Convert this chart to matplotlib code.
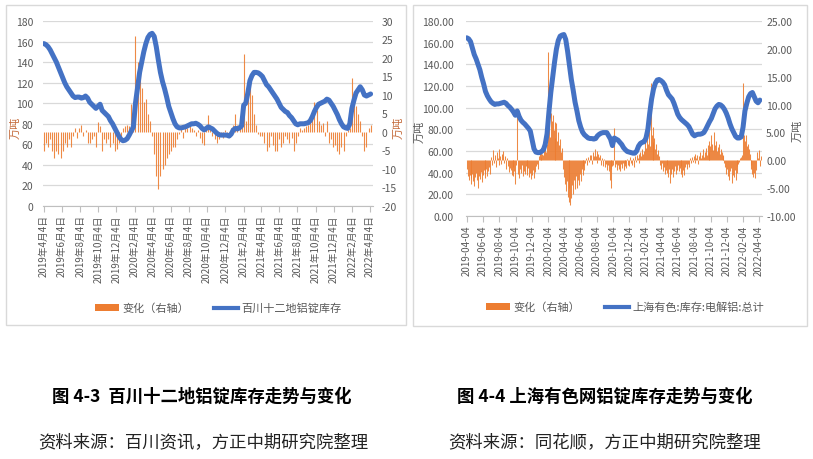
import numpy as np
import pandas as pd
import matplotlib
matplotlib.use("Agg")
import matplotlib.pyplot as plt
from matplotlib.patches import Rectangle, Patch
from matplotlib.lines import Line2D

plt.rcParams['font.family'] = ['Noto Sans CJK SC', 'DejaVu Sans']

ORANGE = '#ED7D31'
BLUE = '#4472C4'
GRID = '#D9D9D9'
TXT = '#595959'

# 百川十二地铝锭库存 (weekly, 万吨)
bc_stock = [158, 157, 155, 152, 148, 144, 140, 135, 130, 125, 120, 116, 113, 110, 107, 105.5,
            106, 106, 105, 105.5, 107, 105, 101, 99, 97, 95, 97, 99, 93, 91, 89, 87, 83, 80,
            76, 72, 68, 65, 63.5, 64, 65.5, 69, 73, 77, 100, 115, 130, 140, 150, 158, 164,
            167, 168, 165, 155, 142, 130, 121, 114, 106, 97, 91, 85, 80, 77, 76, 76, 76.5,
            77, 78, 79, 80, 80, 80.5, 79.5, 78, 75.5, 74, 75.5, 77, 76, 75, 73, 71, 69.5, 69,
            69, 69, 69, 68, 70, 74, 75.5, 75, 76, 78, 98, 100, 110, 122, 127, 130, 130,
            129.5, 128, 126, 122, 118, 116, 113, 110, 107, 104, 100, 96, 94, 92, 91, 88, 86,
            83, 80, 79, 80, 80, 80, 80.5, 81, 83, 87, 92, 96, 99, 100, 101, 102, 104, 103,
            100, 97, 93, 89, 84, 80, 77, 76, 75.5, 80, 95, 103, 110, 113, 116, 113, 108,
            107, 108, 109]
# 变化（右轴）
bc_change = [-5, -3, -4, -2, -5, -7, -5, -6, -7, -5, -3, -4, -2, -4, -1, 1, -1.5, 1, 2, -1,
             0.5, -3, -3, -2, -1, -4, 2.7, 1.5, -5, -2, -3, -2, -4, -3, -5, -4.5, -3, -2, 1,
             1.5, 2, 1.5, 7.5, 5, 26, 19, 17, 12, 8, 9, 5, 3, -1, -6, -12, -15.5, -12, -10,
             -9, -7, -6, -5, -4, -4, -2, -0.5, 1, -1.5, 1, 1, 1.5, 1, 0.5, -1, 0.5, -1.5, -3,
             -3.5, 1, 4.5, 2, -1, -2, -3, -2, -1, -1.5, 0.5, -0.5, -1, 1, 2, 5, 2, 1, 1.5,
             21, 3, 12, 15.5, 10, 5, 2, -0.5, -1, -1, -3, -5, -4, -1, -3.5, -5, -5, -2, -4,
             -3, -1, -2, -3, -1.5, -5, -3, -1, 1, 0.5, 1, 1.5, 2, 3, 5, 8, 6, 3, 2, 2.5, -1,
             3, -3, -2, -4, -3.5, -5, -6, -4, -5, -1, 0.5, 1, 14.5, 10, 7, 5, 3, -1, -5, -4,
             1, 2]

# 上海有色:库存:电解铝:总计 (weekly, 万吨)
smm_stock = [164.5, 163.5, 161, 155, 149, 145, 140, 135, 128, 122, 115, 111, 108, 105.5, 104,
             103, 103.5, 103.5, 104, 104.5, 105, 104, 102, 100.5, 98.5, 96, 93, 97, 92, 88.5,
             86.5, 85, 83, 81, 78.5, 70, 62, 59, 58.5, 58.5, 59.5, 61, 66, 76, 96, 114, 128,
             142, 154, 162, 166, 167, 167.5, 163, 152, 139, 126, 116, 105, 97, 88, 82, 77.5,
             75, 73.5, 72, 71.5, 71.5, 71, 71.5, 74, 75.5, 76.5, 77, 77, 77, 74, 71, 65, 72,
             71, 70, 68, 66, 63, 61, 59.5, 59, 58.5, 58, 58, 60, 64.5, 67, 68, 68.5, 72, 80,
             95, 108, 117, 122.5, 125.5, 126, 125, 123.5, 121, 116, 112, 110, 108, 104, 99,
             94, 91, 89, 87.5, 86, 84.5, 82.5, 79, 75.5, 74, 75, 75.5, 75.5, 76, 77, 80, 83.5,
             87, 90, 94.5, 99, 101.5, 103, 102.5, 101, 98.5, 95, 90.5, 85, 80.5, 77, 73.5, 72,
             72, 73, 82, 97, 104, 110, 113, 114, 110, 106, 104.5, 107]
# 变化（右轴）, twice a week
smm_change = [-1.5, -2.8, -3.5, -2.6, -4.2, -3.1, -2.4, -3.8, -4.6, -3.0, -2.2, -3.6, -4.9, -2.8,
              -3.3, -2.1, -3.9, -2.7, -1.8, -3.2, -2.5, -1.6, -2.9, -1.9, -1.2, -2.4,
              0.6, -0.8, 1.9, -0.5, 0.9, -1.2, 1.4, 0.4, -0.9, 2.1, 0.7, -0.6, 1.2, 1.7, -0.4,
              0.8, -1.5, 0.5, -1.0, -2.1, -1.3,
              -1.8, -2.6, -1.2, -2.9, -2.0, -4.3, -0.8, 8.0, -2.4, -3.1, -1.5, -2.2, -0.9, -2.8,
              -1.9, -2.5, -1.1, -2.0, -2.7, -1.4, -3.0, -2.2, -3.4, -2.6, -1.7, -3.2, -2.1,
              -1.0, -0.6, -1.5,
              0.8, 1.5, 0.6, 2.0, 1.2, 0.9, 1.8, 2.5, 1.4, 3.0,
              19.4,
              6.5, 4.2, 8.5, 7.0, 8.2, 5.5, 6.8, 4.0, 6.7, 3.5, 5.0, 2.8, 3.8, 1.5, 2.2,
              -1.5, -3.0, -4.2, -5.5, -3.8, -6.5, -7.5, -5.0, -8.0, -6.8, -4.5, -6.0, -3.5,
              -5.2, -2.8, -5.0, -3.5, -4.5, -2.5, -3.8, -1.5, -2.6, -1.0, -1.8,
              -0.5, 0.4, -0.8, 0.6, -0.3, 0.9, 1.0, -0.6, 1.5, 0.7, 2.0, 0.8, 1.7, -0.5, 1.2,
              0.6, 1.0, -0.8, 0.5, -1.0, 0.3, -1.2, -0.6, -1.8, -0.9, -2.0, -3.5,
              -1.5, -4.9, -1.0, -0.8, 5.8, -1.2, -0.6, -1.8, -0.9, -1.5, -2.0, -0.7, -1.3,
              -0.5, -1.8, -1.0, -0.4, -1.4, 0.3, -0.8, -1.1, 0.6, -0.5, -0.9, 0.4, -1.2, 0.8,
              -0.3, 1.0, 0.5, 1.2, -0.4, 1.5, 0.8, 2.0, 1.1, 1.6,
              3.5, 2.2, 4.8, 3.0, 6.0, 2.5, 13.8, 4.5, 6.0, 3.2, 4.0, 2.0, 3.0, 1.2, 1.8, 0.8,
              -0.8, -1.5, -0.5, -2.0, -1.2, -2.5, -1.8, -0.9, -2.2, -3.0, -1.5, -4.0, -2.4,
              -1.6, -3.0, -2.0, -1.0, -2.5, -1.8, -0.8, -2.0, -1.4, -2.4, -1.0, -3.0, -1.8,
              -2.6, -1.2, -0.7, -1.5, -0.6, -1.2, 0.4, -0.5, 0.6, -0.3,
              0.8, 1.2, -0.4, 0.5, 1.0, -0.6, 0.7, 1.5, 0.4, 1.0, 2.0, 0.6, 1.4, 2.2, 1.0, 2.8,
              1.5, 3.5,
              2.5, 4.5, 3.0, 1.8, 5.0, 2.8, 3.5, 1.6, 2.4, 3.0, 1.2, 2.0, 1.5, 0.8, 1.0, -0.5,
              -1.2, -2.5, -1.5, -2.8, -3.5, -2.0, -1.4, -4.0, -2.6, -3.0, -1.8, -3.5, -2.2,
              -1.0, -0.6, -0.3, 0.4,
              0.6, 1.0, 13.8,
              4.5, 3.5, 4.5, 2.5, 3.0, 2.0, 1.2,
              -0.8, -1.5, -2.5, -3.0, -2.2, -3.2, -1.8, 1.5, 0.5, 1.8, -1.0, 0.8]

bc_dates = pd.date_range('2019-04-04', periods=len(bc_stock), freq='7D')
smm_dates = pd.date_range('2019-04-04', periods=len(smm_stock), freq='7D')
smm_chg_dates = pd.date_range('2019-04-04', periods=len(smm_change), freq='84h')
tick_dates = pd.date_range('2019-04-01', periods=19, freq='2MS') + pd.Timedelta(days=3)
xlo, xhi = pd.Timestamp('2019-04-01'), pd.Timestamp('2022-04-15')

W, H = 813, 460
fig = plt.figure(figsize=(W / 100, H / 100), dpi=100)


def px_rect(x0, y0, x1, y1):
    return [x0 / W, 1 - y1 / H, (x1 - x0) / W, (y1 - y0) / H]


def panel(rect, dates, stock, cdates, change, lticks, rticks, fmt, xlabels,
          lpad, rpad, blw):
    ax = fig.add_axes(rect)
    ax2 = ax.twinx()
    ax3 = ax.twinx()
    ax2.vlines(cdates, 0, change, colors=ORANGE, lw=blw, alpha=0.9)
    ax3.plot(dates, stock, color=BLUE, lw=3.6, solid_capstyle='round', solid_joinstyle='round')
    ax.set_ylim(lticks[0], lticks[-1])
    ax3.set_ylim(lticks[0], lticks[-1])
    ax2.set_ylim(rticks[0], rticks[-1])
    ax.set_yticks(lticks)
    ax.set_yticklabels([fmt.format(v) for v in lticks])
    ax2.set_yticks(rticks)
    ax2.set_yticklabels([fmt.format(v) for v in rticks])
    ax3.set_yticks([])
    ax.set_xlim(xlo, xhi)
    ax.set_xticks(tick_dates)
    ax.set_xticklabels(xlabels, rotation=90, fontsize=7, color=TXT)
    ax.grid(axis='y', color=GRID, lw=0.9)
    ax.set_axisbelow(True)
    for a in (ax, ax2, ax3):
        for s in a.spines.values():
            s.set_visible(False)
    ax.spines['bottom'].set_visible(True)
    ax.spines['bottom'].set_color('#BFBFBF')
    ax.tick_params(axis='x', length=4, color='#BFBFBF', pad=2)
    ax.tick_params(axis='y', length=0, labelsize=7.5, labelcolor=TXT, pad=lpad)
    ax2.tick_params(axis='y', length=0, labelsize=7.5, labelcolor=TXT, pad=rpad)
    handles = [Patch(facecolor=ORANGE, edgecolor='none'),
               Line2D([], [], color=BLUE, lw=3)]
    return ax, handles


bc_labels = [f"{d.year}年{d.month}月{d.day}日" for d in tick_dates]
smm_labels = [d.strftime('%Y-%m-%d') for d in tick_dates]

axl, hl = panel(px_rect(43, 22, 373, 207), bc_dates, bc_stock, bc_dates, bc_change,
                list(range(0, 181, 20)), list(range(-20, 31, 5)), '{:g}', bc_labels,
                7, 6, 0.8)
axr, hr = panel(px_rect(466, 22, 762, 217), smm_dates, smm_stock, smm_chg_dates, smm_change,
                list(range(0, 181, 20)), list(range(-10, 26, 5)), '{:.2f}', smm_labels,
                9, 3, 0.75)

fig.legend(hl, ['变化（右轴）', '百川十二地铝锭库存'], loc='center', ncol=2,
           bbox_to_anchor=(218 / W, 1 - 309 / H), frameon=False, fontsize=8,
           handlelength=2.2, handleheight=0.6, columnspacing=2.2, handletextpad=0.3,
           labelcolor=TXT)
fig.legend(hr, ['变化（右轴）', '上海有色:库存:电解铝:总计'], loc='center', ncol=2,
           bbox_to_anchor=(625 / W, 1 - 308 / H), frameon=False, fontsize=8,
           handlelength=2.2, handleheight=0.6, columnspacing=2.2, handletextpad=0.3,
           labelcolor=TXT)

# axis titles
fig.text(16 / W, 1 - 128 / H, '万吨', rotation=90, ha='center', va='center', fontsize=8, color='#C46A3A')
fig.text(399 / W, 1 - 128 / H, '万吨', rotation=90, ha='center', va='center', fontsize=8, color='#C46A3A')
fig.text(420 / W, 1 - 132 / H, '万吨', rotation=90, ha='center', va='center', fontsize=8, color=TXT)
fig.text(798 / W, 1 - 131 / H, '万吨', rotation=90, ha='center', va='center', fontsize=8, color=TXT)

# chart frames
for x0, y0, x1, y1 in [(6, 6, 406, 326), (413, 6, 807, 327)]:
    fig.add_artist(Rectangle((x0 / W, 1 - y1 / H), (x1 - x0) / W, (y1 - y0) / H,
                             transform=fig.transFigure, fill=False, ec=GRID, lw=1))

# captions
fig.text(202 / W, 1 - 397 / H, '图 4-3  百川十二地铝锭库存走势与变化', ha='center', va='center',
         fontsize=12.5, fontweight='bold', color='black')
fig.text(203 / W, 1 - 442 / H, '资料来源：百川资讯，方正中期研究院整理', ha='center', va='center',
         fontsize=12.5, color='#222222')
fig.text(605 / W, 1 - 397 / H, '图 4-4 上海有色网铝锭库存走势与变化', ha='center', va='center',
         fontsize=12.5, fontweight='bold', color='black')
fig.text(605 / W, 1 - 442 / H, '资料来源：同花顺，方正中期研究院整理', ha='center', va='center',
         fontsize=12.5, color='#222222')

fig.savefig('out.png', dpi=100)
